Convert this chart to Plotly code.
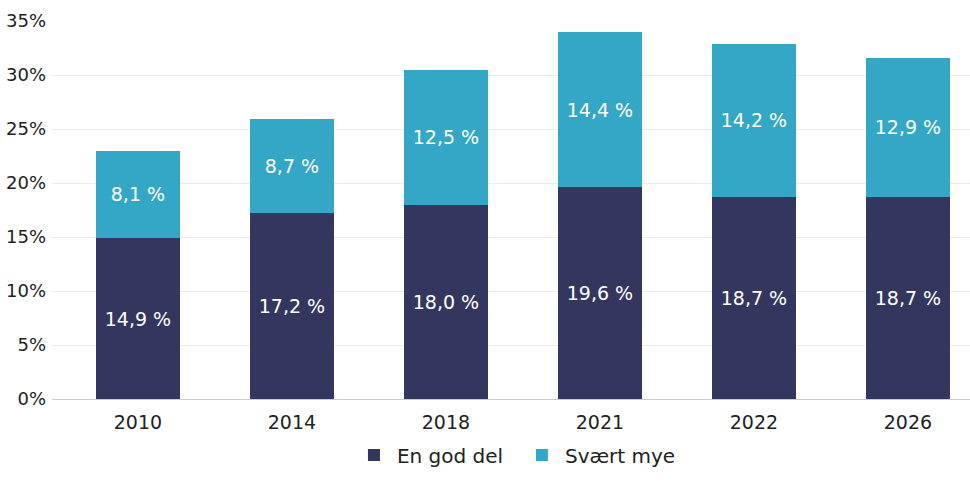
import plotly.graph_objects as go

years = ["2010", "2014", "2018", "2021", "2022", "2026"]
en_god_del = [14.9, 17.2, 18.0, 19.6, 18.7, 18.7]
svaert_mye = [8.1, 8.7, 12.5, 14.4, 14.2, 12.9]
y_ticks = [0, 5, 10, 15, 20, 25, 30, 35]

def fmt(v):
    return f"{v:.1f} %".replace(".", ",")

fig = go.Figure()
fig.add_trace(go.Bar(
    name="En god del", x=years, y=en_god_del,
    marker=dict(color="#333760", line=dict(width=0)),
    text=[fmt(v) for v in en_god_del], textposition="inside",
    insidetextanchor="middle",
    textfont=dict(color="white", size=19, family="DejaVu Sans"),
    width=0.545,
))
fig.add_trace(go.Bar(
    name="Svært mye", x=years, y=svaert_mye,
    marker=dict(color="#35a7c6", line=dict(width=0)),
    text=[fmt(v) for v in svaert_mye], textposition="inside",
    insidetextanchor="middle",
    textfont=dict(color="white", size=19, family="DejaVu Sans"),
    width=0.545,
))

fig.update_layout(
    barmode="stack",
    width=970, height=483,
    margin=dict(l=52, r=0, t=21, b=84, autoexpand=False),
    paper_bgcolor="white", plot_bgcolor="white",
    font=dict(family="DejaVu Sans", size=17, color="#222222"),
    legend=dict(orientation="h", x=0.535, xanchor="center", xref="container",
                y=(483 - 455) / 483, yanchor="middle", yref="container",
                font=dict(size=20, color="#222222"), traceorder="normal",
                itemwidth=36, entrywidth=117, entrywidthmode="pixels"),
    xaxis=dict(type="category", range=[-0.558, 5.403], showgrid=False,
               showline=False, ticks="", tickfont=dict(size=19), ticklabelstandoff=10),
    yaxis=dict(range=[0, 35], tickvals=y_ticks, ticktext=[f"{v}%" for v in y_ticks],
               gridcolor="#ebebeb", gridwidth=1, zeroline=True, zerolinecolor="#cccccc",
               zerolinewidth=1, tickfont=dict(size=18), ticks="", ticklabelstandoff=5),
    showlegend=True,
)

fig.write_html("out.html")
